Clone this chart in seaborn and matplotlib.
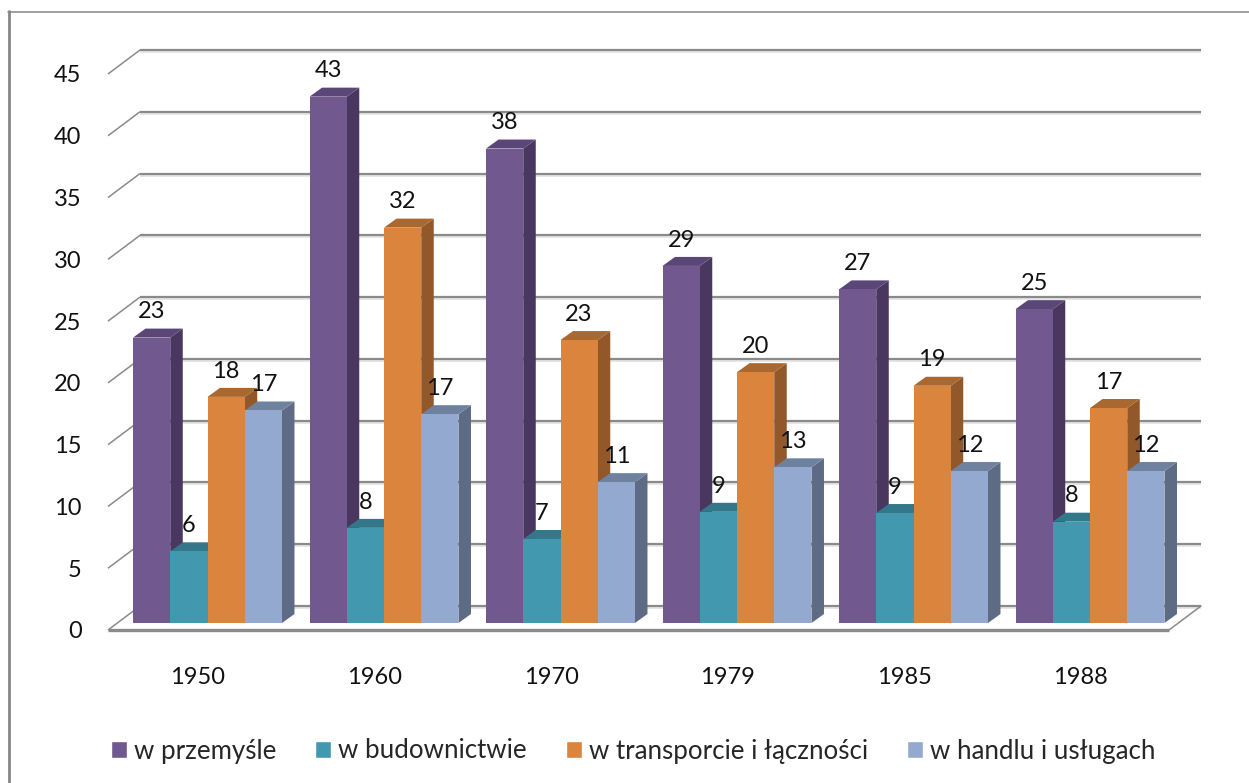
import numpy as np
import pandas as pd
import matplotlib
matplotlib.use("Agg")
import matplotlib.pyplot as plt
from matplotlib.lines import Line2D
from matplotlib.patches import Polygon
from matplotlib.transforms import ScaledTranslation
import seaborn as sns

years = ["1950", "1960", "1970", "1979", "1985", "1988"]
series_names = ["w przemyśle", "w budownictwie", "w transporcie i łączności", "w handlu i usługach"]
przemysl = [23.1, 42.6, 38.4, 28.9, 27.0, 25.4]
budownictwo = [5.8, 7.7, 6.8, 9.0, 8.9, 8.2]
transport = [18.3, 32.0, 22.9, 20.3, 19.2, 17.4]
handel = [17.2, 16.9, 11.4, 12.6, 12.3, 12.3]
front_colors = ["#71588F", "#4198AF", "#DB843D", "#93A9CF"]
side_colors = ["#49375F", "#2F7486", "#93582A", "#5D6B85"]
top_colors = ["#5B4678", "#33788A", "#A8682F", "#6E82A0"]

W, H = 1249, 783
sns.set_theme(style="white")
plt.rcParams["font.family"] = ["Lato", "DejaVu Sans"]

df = pd.DataFrame({
    "rok": np.repeat(years, 4),
    "seria": series_names * 6,
    "wartosc": np.column_stack([przemysl, budownictwo, transport, handel]).ravel(),
})

fig = plt.figure(figsize=(W / 100, H / 100), dpi=100, facecolor="white")
ax = fig.add_axes([108 / W, (H - 623) / H, (1169 - 108) / W, (623 - 67) / H])
ax.patch.set_alpha(0)

sns.barplot(data=df, x="rok", y="wartosc", hue="seria", hue_order=series_names,
            palette=front_colors, saturation=1, width=0.844, gap=0,
            ax=ax, legend=True, clip_on=False)

unit_x = 176.5   # pixels per category
unit_y = 556 / 45  # pixels per value unit
ax.set_xlim((108 - 207.5) / unit_x, (1169 - 207.5) / unit_x)
ax.set_ylim(0, 45)
ax.set_xlabel("")
ax.set_ylabel("")
ax.set_yticks(np.arange(0, 50, 5))
sns.despine(ax=ax, left=True, bottom=True)
ax.tick_params(axis="both", length=0, labelsize=17, colors="#111111")
ax.tick_params(axis="y", pad=19)
ax.tick_params(axis="x", pad=32)

shift_y = ScaledTranslation(0, -7 / 100, fig.dpi_scale_trans)
for lab in ax.get_yticklabels():
    lab.set_transform(lab.get_transform() + shift_y)
shift_x = ScaledTranslation(-9.5 / 100, 0, fig.dpi_scale_trans)
for lab in ax.get_xticklabels():
    lab.set_transform(lab.get_transform() + shift_x)

# pseudo-3D wall grid
x0, x1 = ax.get_xlim()
back_lift = 17 / unit_y
front_drop = 7 / unit_y
wall_dx = 32 / unit_x
grid_col = "#8A8A8A"
for v in ax.get_yticks():
    ax.plot([x0, x0 + wall_dx], [v - front_drop, v + back_lift], color=grid_col, lw=1.1,
            clip_on=False, zorder=1, solid_capstyle="butt")
    ax.plot([x0 + wall_dx, x1 + wall_dx], [v + back_lift] * 2, color=grid_col, lw=1.6,
            clip_on=False, zorder=1, solid_capstyle="butt")
    ax.plot([x0 + wall_dx, x1 + wall_dx], [v + back_lift - 2 / unit_y] * 2, color="#E2E2E2", lw=1.2,
            clip_on=False, zorder=0.9, solid_capstyle="butt")
ax.plot([x0, x1], [-front_drop] * 2, color=grid_col, lw=2.4, clip_on=False, zorder=1,
        solid_capstyle="butt")
ax.plot([x1, x1 + wall_dx], [-front_drop, back_lift], color=grid_col, lw=1.1, clip_on=False, zorder=1)

# bar depth: side and top faces derived from the seaborn bars
dx = 12.5 / unit_x
dy = 9 / unit_y
for j, cont in enumerate(ax.containers):
    base_z = 3 + 2 * j
    for bar in cont:
        l, w, h = bar.get_x(), bar.get_width(), bar.get_height()
        r = l + w
        ax.add_patch(Polygon([(r, 0), (r + dx, dy), (r + dx, h + dy), (r, h)], closed=True,
                             fc=side_colors[j], ec="none", clip_on=False, zorder=base_z))
        ax.add_patch(Polygon([(l, h), (l + dx, h + dy), (r + dx, h + dy), (r, h)], closed=True,
                             fc=top_colors[j], ec="none", clip_on=False, zorder=base_z))
        bar.set_zorder(base_z + 1)
        bar.set_edgecolor("none")
    labels = ax.bar_label(cont, fmt="%.0f", padding=11, fontsize=17, color="#111111", zorder=20)
    for t in labels:
        t.set_clip_on(False)
    if j == 2:
        # the 1950 label of this series sits closer to its bar in the original
        labels[0].set_transform(labels[0].get_transform()
                                + ScaledTranslation(0, -8 / 100, fig.dpi_scale_trans))

# legend
handles, labs = ax.get_legend_handles_labels()
ax.legend(handles, labs, ncol=4, frameon=False, fontsize=18.6, loc="center left",
          bbox_to_anchor=((111 - 108) / (1169 - 108), (623 - 751) / 556),
          handlelength=0.62, handleheight=0.62, handletextpad=0.26, columnspacing=1.52,
          borderpad=0, borderaxespad=0)

# chart frame
frame = dict(color="#868686", transform=fig.transFigure)
fig.add_artist(Line2D([8.5 / W, 8.5 / W], [0, 1 - 11 / H], lw=2.0, **frame))
fig.add_artist(Line2D([8 / W, 1], [1 - 11.5 / H] * 2, lw=1.1, **frame))

fig.savefig("out.png", dpi=100, facecolor="white")
